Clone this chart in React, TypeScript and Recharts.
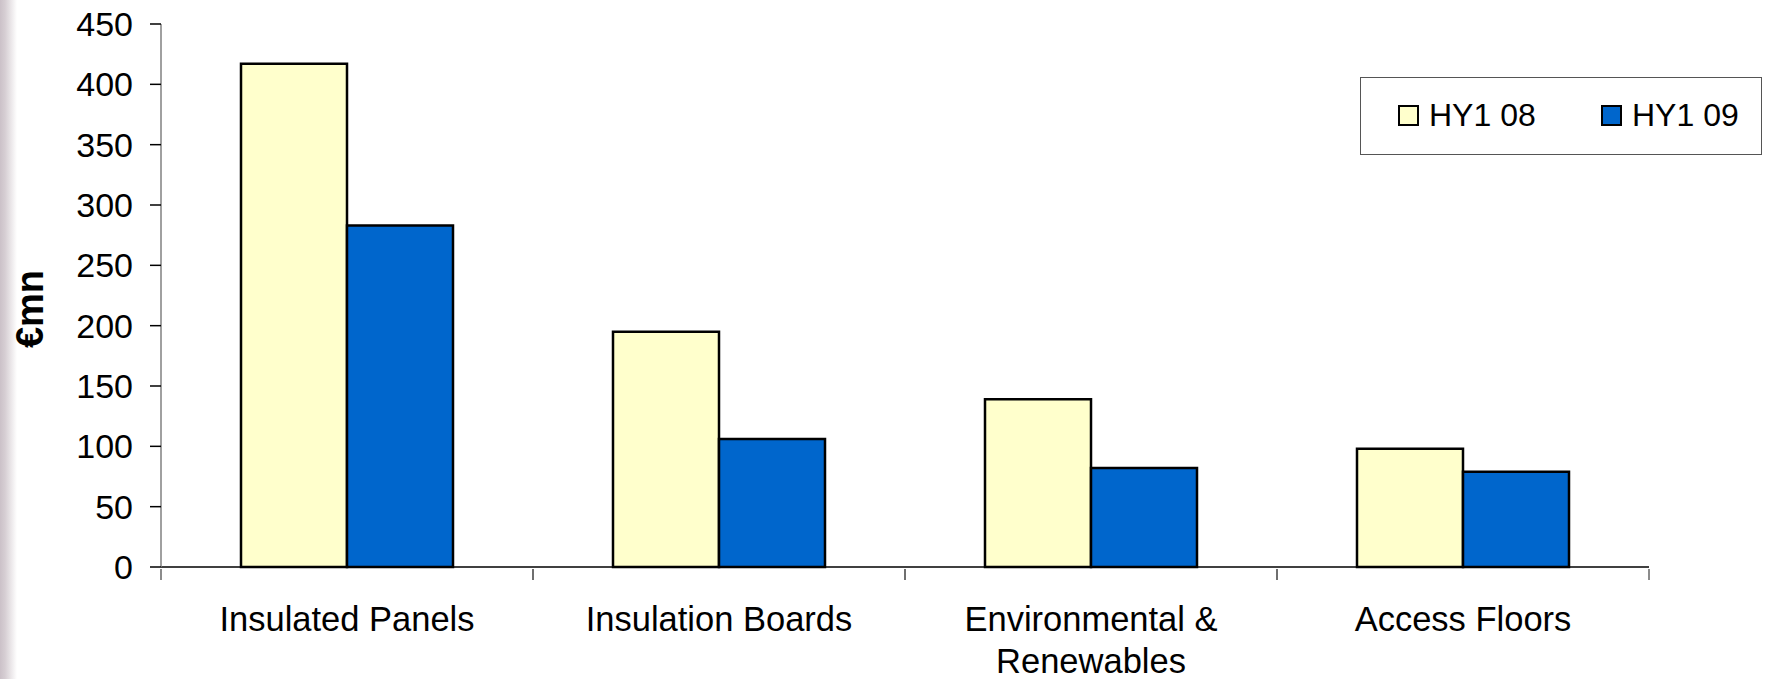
import { Bar, BarChart, Label, Legend, XAxis, YAxis } from "recharts";

const categoryLines = [
  ["Insulated Panels"],
  ["Insulation Boards"],
  ["Environmental &", "Renewables"],
  ["Access Floors"],
];
const categories = categoryLines.map((l) => l.join(" "));
const hy108 = [417, 195, 139, 98];
const hy109 = [283, 106, 82, 79];
const yTicks = [0, 50, 100, 150, 200, 250, 300, 350, 400, 450];

const data = categories.map((name, i) => ({ name, hy108: hy108[i], hy109: hy109[i] }));

const W = 1766;
const H = 679;
const AXIS_W = 161;
const RIGHT = 117;
const BAND = (W - AXIS_W - RIGHT) / categories.length;
const FONT = "Arial, 'Liberation Sans', sans-serif";

const CategoryTick = (props: any) => {
  const { x, y, index } = props;
  const lines = categoryLines[index] ?? [String(props.payload.value)];
  return (
    <g>
      <line x1={x - BAND / 2} y1={y} x2={x - BAND / 2} y2={y + 11} stroke="#666" strokeWidth={1.5} />
      <line x1={x + BAND / 2} y1={y} x2={x + BAND / 2} y2={y + 11} stroke="#666" strokeWidth={1.5} />
      {lines.map((t: string, i: number) => (
        <text key={t} x={x} y={y + 62 + i * 42} textAnchor="middle" fontFamily={FONT} fontSize={34.5} fill="#000">
          {t}
        </text>
      ))}
    </g>
  );
};

const LegendBox = ({ payload }: any) => (
  <div
    style={{
      position: "relative",
      boxSizing: "border-box",
      width: 402,
      height: 78,
      border: "1px solid #555",
      background: "#fff",
      fontFamily: FONT,
      fontSize: 32,
      color: "#000",
    }}
  >
    {(payload ?? []).map((p: any, i: number) => (
      <div
        key={p.value}
        style={{ position: "absolute", left: i === 0 ? 37 : 240, top: 26, height: 22, display: "flex", alignItems: "center" }}
      >
        <span style={{ boxSizing: "border-box", width: 21, height: 21, background: p.color, border: "2px solid #000" }} />
        <span style={{ marginLeft: 10, lineHeight: "22px" }}>{p.value}</span>
      </div>
    ))}
  </div>
);

export default function App() {
  return (
    <div style={{ position: "absolute", left: 0, top: 0, width: W, height: H, background: "#fff" }}>
      <div
        style={{
          position: "absolute",
          left: 0,
          top: 0,
          width: 18,
          height: H,
          background: "linear-gradient(to right, #cbc1c8 0px, #d6ced3 5px, #ffffff 17px)",
        }}
      />
      <BarChart
        width={W}
        height={H}
        data={data}
        margin={{ top: 24, right: RIGHT, bottom: 0, left: 0 }}
        barGap={0}
        barSize={106}
      >
        <XAxis
          dataKey="name"
          interval={0}
          height={112}
          tickSize={0}
          tickLine={false}
          axisLine={{ stroke: "#000", strokeWidth: 1.5 }}
          tick={<CategoryTick />}
        />
        <YAxis
          width={AXIS_W}
          domain={[0, 450]}
          ticks={yTicks}
          interval={0}
          tickSize={11}
          tickMargin={17}
          axisLine={{ stroke: "#808080", strokeWidth: 1.5 }}
          tickLine={{ stroke: "#000", strokeWidth: 1.5 }}
          tick={{ fontFamily: FONT, fontSize: 34, fill: "#000" }}
        >
          <Label
            content={() => (
              <text
                x={30}
                y={309}
                transform="rotate(-90 30 309)"
                textAnchor="middle"
                dominantBaseline="central"
                fontFamily={FONT}
                fontWeight="bold"
                fontSize={38}
                fill="#000"
              >
                €mn
              </text>
            )}
          />
        </YAxis>
        <Legend
          layout="horizontal"
          verticalAlign="middle"
          align="center"
          content={<LegendBox />}
          wrapperStyle={{ left: 1360, top: 77, width: 402, height: 78 }}
        />
        <Bar dataKey="hy108" name="HY1 08" fill="#FFFFCC" stroke="#000" strokeWidth={2.5} isAnimationActive={false} />
        <Bar dataKey="hy109" name="HY1 09" fill="#0066CC" stroke="#000" strokeWidth={2.5} isAnimationActive={false} />
      </BarChart>
    </div>
  );
}
